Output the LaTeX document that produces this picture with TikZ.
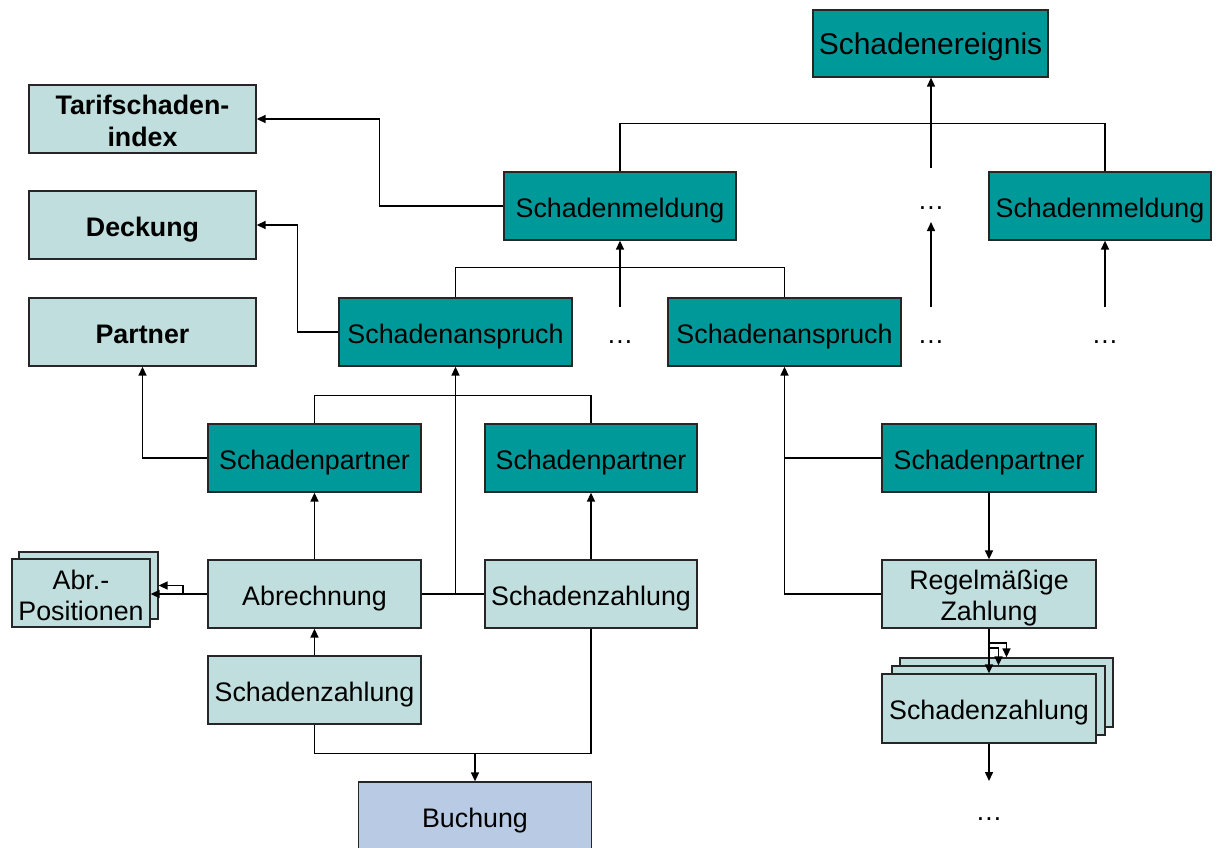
\documentclass[tikz,border=0pt]{standalone}
\usepackage{fontspec}
\setmainfont{Liberation Sans}
\usetikzlibrary{arrows.meta}
\definecolor{claimdark}{HTML}{009999}
\definecolor{claimlight}{HTML}{C0DEDD}
\definecolor{bookblue}{HTML}{B9CBE4}
% invisible strut that lowers the first line of a two-line label
\newcommand{\lowerstrut}[1]{\rule{0pt}{#1}}
\tikzset{
  framebox/.style={draw=black!85, line width=1.3pt, inner sep=0pt, minimum height=68pt,
    align=center, font=\fontsize{26.8}{31}\selectfont},
  box/.style={framebox, text height=26pt, text depth=4pt},
  dark/.style={box, fill=claimdark},
  light/.style={box, fill=claimlight},
  lighttwo/.style={framebox, fill=claimlight},
  lightbold/.style={light, font=\bfseries\fontsize{26.8}{32}\selectfont},
  link/.style={line width=1.5pt},
  arr/.style={link, -{Triangle[length=9pt,width=8pt]}},
  dots/.style={anchor=base, inner sep=0pt, font=\fontsize{26.8}{31}\selectfont}
}
\begin{document}
\begin{tikzpicture}[x=1pt,y=-1pt]
\useasboundingbox (0,0) rectangle (1217,847);
\clip (0,0) rectangle (1217,847);

% top level
\node[dark, minimum width=235pt, minimum height=67pt, font=\fontsize{30}{34}\selectfont] (ereig) at (930.5,43.5) {Schadenereignis};

% reference tables on the left
\node[lighttwo, minimum width=227pt, font=\bfseries\fontsize{26.8}{32}\selectfont] (tarif) at (142.5,119) {\lowerstrut{24pt}Tarifschaden-\\index};
\node[lightbold, minimum width=227pt] (deck) at (142.5,225) {Deckung};
\node[lightbold, minimum width=227pt] (partner) at (142.5,332) {Partner};

% claim reports and claims
\node[dark, minimum width=232pt] (meld1) at (620,206) {Schadenmeldung};
\node[dark, minimum width=222pt] (meld2) at (1100,206) {Schadenmeldung};
\node[dark, minimum width=233pt] (anspr1) at (455.5,332) {Schadenanspruch};
\node[dark, minimum width=233pt] (anspr2) at (784.5,332) {Schadenanspruch};

% claim partners
\node[dark, minimum width=213pt] (sp1) at (314.5,458) {Schadenpartner};
\node[dark, minimum width=212pt] (sp2) at (591,458) {Schadenpartner};
\node[dark, minimum width=214pt] (sp3) at (989,458) {Schadenpartner};

% settlement and payments
\node[light, minimum width=213pt] (abr) at (314.5,594) {Abrechnung};
\node[light, minimum width=212pt] (zahl1) at (591,594) {Schadenzahlung};
\node[light, minimum width=213pt] (zahl2) at (314.5,690) {Schadenzahlung};
\node[box, fill=bookblue, minimum width=233pt] (buch) at (475,816) {Buchung};
\node[lighttwo, minimum width=214pt] (regel) at (989,594) {\lowerstrut{27pt}Regelmäßige\\Zahlung};

% stacked recurring payments
\node[light, minimum width=213pt, minimum height=69pt] (stackb) at (1006.5,692.5) {};
\node[light, minimum width=213pt, minimum height=69pt] (stackm) at (998.5,700.5) {};
\node[light, minimum width=214pt, minimum height=69pt] (stackf) at (989,708.5) {Schadenzahlung};

% stacked settlement positions
\node[light, minimum width=139pt, minimum height=67pt] (abrposb) at (88.5,585.5) {};
\node[lighttwo, minimum width=138pt] (abrpos) at (81,593) {\lowerstrut{24pt}Abr.-\\Positionen};

% ellipses
\node[dots] (d1) at (931,209) {…};
\node[dots] (d2) at (620,343) {…};
\node[dots] (d3) at (931,343) {…};
\node[dots] (d4) at (1105,343) {…};
\node[dots] (d5) at (989,820) {…};

% free line ends
\coordinate (t1) at (931,168);
\coordinate (t2) at (931,307);
\coordinate (t2e) at (931,222);
\coordinate (t3) at (1105,307);
\coordinate (t4) at (620,307);
\coordinate (ap) at (183,594);
\coordinate (r1) at (989,643);
\coordinate (r2) at (989,648);
\coordinate (e5) at (989,781);

% connectors to the claim event
\draw[arr] (t1) -- (t1 |- ereig.south);
\draw[link] (meld1.north) -- ++(0,-48) -| ([xshift=5pt]meld2.north);
\draw[arr] (t2) -- (t2e);
\draw[arr] (t3) -- ([xshift=5pt]meld2.south);

% connectors to the claim reports
\draw[link] (anspr1.north) -- ++(0,-30) -| (anspr2.north);
\draw[arr] (t4) -- (meld1.south);
\draw[arr] (meld1.west) -- ++(-124,0) |- (tarif.east);
\draw[arr] (anspr1.west) -- ++(-41,0) |- (deck.east);

% left claim
\draw[arr] (sp1.west) -| (partner.south);
\draw[link] (sp1.north) -- ++(0,-28) -| (sp2.north);
\draw[link] (abr.east) -- (zahl1.west);
\draw[arr] (abr.east -| anspr1.south) -- (anspr1.south);
\draw[arr] (abr.north) -- (sp1.south);
\draw[arr] (zahl1.north) -- (sp2.south);
\draw[arr] (zahl2.north) -- (abr.south);
\draw[link] (zahl2.south) -- ++(0,29) -| (zahl1.south);
\draw[arr] (buch.north |- 0,753) -- (buch.north);
\draw[arr] (abr.west) -- (abr.west -| abrpos.east);
\draw[arr] (ap) |- (abrposb.east);

% right claim
\draw[arr] (sp3.south) -- (regel.north);
\draw[arr] (regel.west) -| (anspr2.south);
\draw[link] (sp3.west) -- (sp3.west -| anspr2.south);
\draw[arr] (regel.south) -- (stackf.north);
\draw[arr] (r1) -| (stackb.north);
\draw[arr] (r2) -| (stackm.north);
\draw[arr] (stackf.south) -- (e5);
\end{tikzpicture}
\end{document}
